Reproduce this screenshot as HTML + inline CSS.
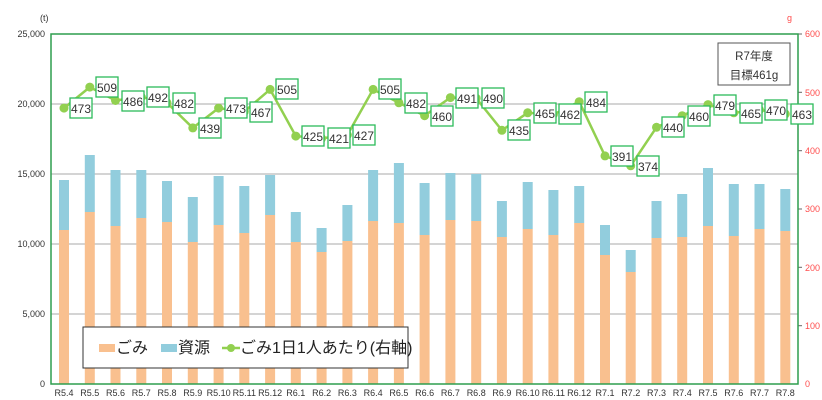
<!DOCTYPE html>
<html><head><meta charset="utf-8"><style>
body{margin:0;background:#fff}
svg{display:block;font-family:"Liberation Sans","Noto Sans CJK JP",sans-serif}
.ax{font-size:9px;fill:#333}
.r{font-size:9px;fill:#ff4d4d}
.lb rect{fill:#fff;stroke:#2dbb5a;stroke-width:1.3}
.lb text{font-size:12px;fill:#333;text-anchor:middle}
.g{fill:#F9C08F}.s{fill:#92CDDD}
</style></head><body>
<svg width="822" height="400" viewBox="0 0 822 400">
<g stroke="#aaa" stroke-width="1">
<line x1="51" x2="798" y1="104" y2="104"/><line x1="51" x2="798" y1="174" y2="174"/>
<line x1="51" x2="798" y1="244" y2="244"/><line x1="51" x2="798" y1="314" y2="314"/>
</g>
<text class="ax" x="40" y="21">(t)</text>
<g class="ax" text-anchor="end">
<text x="45" y="37">25,000</text><text x="45" y="107">20,000</text><text x="45" y="177">15,000</text>
<text x="45" y="247">10,000</text><text x="45" y="317">5,000</text><text x="45" y="387">0</text>
</g>
<text class="r" x="787" y="21">g</text>
<g class="r"><text x="805" y="37">600</text><text x="805" y="96">500</text><text x="805" y="154">400</text>
<text x="805" y="212">300</text><text x="805" y="271">200</text><text x="805" y="329">100</text><text x="805" y="387">0</text></g>
<g stroke="#666" stroke-width="1">
<line x1="798" x2="802" y1="34" y2="34"/><line x1="798" x2="802" y1="92.3" y2="92.3"/><line x1="798" x2="802" y1="150.7" y2="150.7"/><line x1="798" x2="802" y1="209" y2="209"/><line x1="798" x2="802" y1="267.3" y2="267.3"/><line x1="798" x2="802" y1="325.7" y2="325.7"/>
</g>
<!-- bars -->
<g>
<rect class="s" x="59" y="180" width="10" height="50"/><rect class="g" x="59" y="230" width="10" height="154"/>
<rect class="s" x="84.8" y="155" width="10" height="57"/><rect class="g" x="84.8" y="212" width="10" height="172"/>
<rect class="s" x="110.5" y="170" width="10" height="56"/><rect class="g" x="110.5" y="226" width="10" height="158"/>
<rect class="s" x="136.3" y="170" width="10" height="48"/><rect class="g" x="136.3" y="218" width="10" height="166"/>
<rect class="s" x="162" y="181" width="10" height="41"/><rect class="g" x="162" y="222" width="10" height="162"/>
<rect class="s" x="187.8" y="197" width="10" height="45"/><rect class="g" x="187.8" y="242" width="10" height="142"/>
<rect class="s" x="213.6" y="176" width="10" height="49"/><rect class="g" x="213.6" y="225" width="10" height="159"/>
<rect class="s" x="239.3" y="186" width="10" height="47"/><rect class="g" x="239.3" y="233" width="10" height="151"/>
<rect class="s" x="265.1" y="175" width="10" height="40"/><rect class="g" x="265.1" y="215" width="10" height="169"/>
<rect class="s" x="290.8" y="212" width="10" height="30"/><rect class="g" x="290.8" y="242" width="10" height="142"/>
<rect class="s" x="316.6" y="228" width="10" height="24"/><rect class="g" x="316.6" y="252" width="10" height="132"/>
<rect class="s" x="342.4" y="205" width="10" height="36"/><rect class="g" x="342.4" y="241" width="10" height="143"/>
<rect class="s" x="368.1" y="170" width="10" height="51"/><rect class="g" x="368.1" y="221" width="10" height="163"/>
<rect class="s" x="393.9" y="163" width="10" height="60"/><rect class="g" x="393.9" y="223" width="10" height="161"/>
<rect class="s" x="419.6" y="183" width="10" height="52"/><rect class="g" x="419.6" y="235" width="10" height="149"/>
<rect class="s" x="445.4" y="173" width="10" height="47"/><rect class="g" x="445.4" y="220" width="10" height="164"/>
<rect class="s" x="471.2" y="174" width="10" height="47"/><rect class="g" x="471.2" y="221" width="10" height="163"/>
<rect class="s" x="496.9" y="201" width="10" height="36"/><rect class="g" x="496.9" y="237" width="10" height="147"/>
<rect class="s" x="522.7" y="182" width="10" height="47"/><rect class="g" x="522.7" y="229" width="10" height="155"/>
<rect class="s" x="548.4" y="190" width="10" height="45"/><rect class="g" x="548.4" y="235" width="10" height="149"/>
<rect class="s" x="574.2" y="186" width="10" height="37"/><rect class="g" x="574.2" y="223" width="10" height="161"/>
<rect class="s" x="600" y="225" width="10" height="30"/><rect class="g" x="600" y="255" width="10" height="129"/>
<rect class="s" x="625.7" y="250" width="10" height="22"/><rect class="g" x="625.7" y="272" width="10" height="112"/>
<rect class="s" x="651.5" y="201" width="10" height="37"/><rect class="g" x="651.5" y="238" width="10" height="146"/>
<rect class="s" x="677.2" y="194" width="10" height="43"/><rect class="g" x="677.2" y="237" width="10" height="147"/>
<rect class="s" x="703" y="168" width="10" height="58"/><rect class="g" x="703" y="226" width="10" height="158"/>
<rect class="s" x="728.8" y="184" width="10" height="52"/><rect class="g" x="728.8" y="236" width="10" height="148"/>
<rect class="s" x="754.5" y="184" width="10" height="45"/><rect class="g" x="754.5" y="229" width="10" height="155"/>
<rect class="s" x="780.3" y="189" width="10" height="42"/><rect class="g" x="780.3" y="231" width="10" height="153"/>
</g>
<!-- axes -->
<rect x="51" y="34" width="747" height="350" fill="none" stroke="#2e9e4e" stroke-width="1.5"/>
<g class="ax" text-anchor="middle" font-size="8.5">
<text x="64" y="396">R5.4</text><text x="89.8" y="396">R5.5</text><text x="115.5" y="396">R5.6</text><text x="141.3" y="396">R5.7</text><text x="167" y="396">R5.8</text><text x="192.8" y="396">R5.9</text><text x="218.6" y="396">R5.10</text><text x="244.3" y="396">R5.11</text><text x="270.1" y="396">R5.12</text><text x="295.8" y="396">R6.1</text><text x="321.6" y="396">R6.2</text><text x="347.4" y="396">R6.3</text><text x="373.1" y="396">R6.4</text><text x="398.9" y="396">R6.5</text><text x="424.6" y="396">R6.6</text><text x="450.4" y="396">R6.7</text><text x="476.2" y="396">R6.8</text><text x="501.9" y="396">R6.9</text><text x="527.7" y="396">R6.10</text><text x="553.4" y="396">R6.11</text><text x="579.2" y="396">R6.12</text><text x="605" y="396">R7.1</text><text x="630.7" y="396">R7.2</text><text x="656.5" y="396">R7.3</text><text x="682.2" y="396">R7.4</text><text x="708" y="396">R7.5</text><text x="733.8" y="396">R7.6</text><text x="759.5" y="396">R7.7</text><text x="785.3" y="396">R7.8</text>
</g>
<!-- line -->
<polyline fill="none" stroke="#92D050" stroke-width="2.5" points="64,108.1 89.8,87.1 115.5,100.5 141.3,97 167,102.8 192.8,127.9 218.6,108.1 244.3,111.6 270.1,89.4 295.8,136.1 321.6,138.4 347.4,134.9 373.1,89.4 398.9,102.8 424.6,115.7 450.4,97.6 476.2,98.2 501.9,130.3 527.7,112.8 553.4,114.5 579.2,101.7 605,155.9 630.7,165.8 656.5,127.3 682.2,115.7 708,104.6 733.8,112.8 759.5,109.8 785.3,113.9"/>
<g fill="#92D050">
<circle cx="64" cy="108.1" r="4.5"/><circle cx="89.8" cy="87.1" r="4.5"/><circle cx="115.5" cy="100.5" r="4.5"/><circle cx="141.3" cy="97" r="4.5"/><circle cx="167" cy="102.8" r="4.5"/><circle cx="192.8" cy="127.9" r="4.5"/><circle cx="218.6" cy="108.1" r="4.5"/><circle cx="244.3" cy="111.6" r="4.5"/><circle cx="270.1" cy="89.4" r="4.5"/><circle cx="295.8" cy="136.1" r="4.5"/><circle cx="321.6" cy="138.4" r="4.5"/><circle cx="347.4" cy="134.9" r="4.5"/><circle cx="373.1" cy="89.4" r="4.5"/><circle cx="398.9" cy="102.8" r="4.5"/><circle cx="424.6" cy="115.7" r="4.5"/><circle cx="450.4" cy="97.6" r="4.5"/><circle cx="476.2" cy="98.2" r="4.5"/><circle cx="501.9" cy="130.3" r="4.5"/><circle cx="527.7" cy="112.8" r="4.5"/><circle cx="553.4" cy="114.5" r="4.5"/><circle cx="579.2" cy="101.7" r="4.5"/><circle cx="605" cy="155.9" r="4.5"/><circle cx="630.7" cy="165.8" r="4.5"/><circle cx="656.5" cy="127.3" r="4.5"/><circle cx="682.2" cy="115.7" r="4.5"/><circle cx="708" cy="104.6" r="4.5"/><circle cx="733.8" cy="112.8" r="4.5"/><circle cx="759.5" cy="109.8" r="4.5"/><circle cx="785.3" cy="113.9" r="4.5"/>
</g>
<g class="lb">
<rect x="70" y="98" width="22" height="20"/><text x="81" y="113">473</text>
<rect x="96" y="77" width="22" height="20"/><text x="107" y="92">509</text>
<rect x="122" y="91" width="22" height="20"/><text x="133" y="106">486</text>
<rect x="147" y="87" width="22" height="20"/><text x="158" y="102">492</text>
<rect x="173" y="93" width="22" height="20"/><text x="184" y="108">482</text>
<rect x="199" y="118" width="22" height="20"/><text x="210" y="133">439</text>
<rect x="225" y="98" width="22" height="20"/><text x="236" y="113">473</text>
<rect x="250" y="102" width="22" height="20"/><text x="261" y="117">467</text>
<rect x="276" y="79" width="22" height="20"/><text x="287" y="94">505</text>
<rect x="302" y="126" width="22" height="20"/><text x="313" y="141">425</text>
<rect x="328" y="128" width="22" height="20"/><text x="339" y="143">421</text>
<rect x="353" y="125" width="22" height="20"/><text x="364" y="140">427</text>
<rect x="379" y="79" width="22" height="20"/><text x="390" y="94">505</text>
<rect x="405" y="93" width="22" height="20"/><text x="416" y="108">482</text>
<rect x="431" y="106" width="22" height="20"/><text x="442" y="121">460</text>
<rect x="456" y="88" width="22" height="20"/><text x="467" y="103">491</text>
<rect x="482" y="88" width="22" height="20"/><text x="493" y="103">490</text>
<rect x="508" y="120" width="22" height="20"/><text x="519" y="135">435</text>
<rect x="534" y="103" width="22" height="20"/><text x="545" y="118">465</text>
<rect x="559" y="104" width="22" height="20"/><text x="570" y="119">462</text>
<rect x="585" y="92" width="22" height="20"/><text x="596" y="107">484</text>
<rect x="611" y="146" width="22" height="20"/><text x="622" y="161">391</text>
<rect x="637" y="156" width="22" height="20"/><text x="648" y="171">374</text>
<rect x="662" y="117" width="22" height="20"/><text x="673" y="132">440</text>
<rect x="688" y="106" width="22" height="20"/><text x="699" y="121">460</text>
<rect x="714" y="95" width="22" height="20"/><text x="725" y="110">479</text>
<rect x="740" y="103" width="22" height="20"/><text x="751" y="118">465</text>
<rect x="765" y="100" width="22" height="20"/><text x="776" y="115">470</text>
<rect x="791" y="104" width="22" height="20"/><text x="802" y="119">463</text>
</g>
<!-- target box -->
<rect x="718" y="43" width="72" height="42" fill="#fff" stroke="#555" stroke-width="1"/>
<text x="754" y="60" font-size="11.5" fill="#333" text-anchor="middle">R7年度</text>
<text x="754" y="79" font-size="11.5" fill="#333" text-anchor="middle">目標461g</text>
<!-- legend -->
<rect x="83" y="327" width="325" height="41" fill="#fff" stroke="#333" stroke-width="1"/>
<rect x="99" y="344" width="16" height="8" fill="#F9C08F"/>
<text x="116" y="353" font-size="16" fill="#222">ごみ</text>
<rect x="161" y="344" width="16" height="8" fill="#92CDDD"/>
<text x="178" y="353" font-size="16" fill="#222">資源</text>
<line x1="222" x2="240" y1="348" y2="348" stroke="#92D050" stroke-width="2.5"/>
<circle cx="231" cy="348" r="4" fill="#92D050"/>
<text x="240" y="353" font-size="16" fill="#222">ごみ1日1人あたり(右軸)</text>
</svg>
</body></html>
